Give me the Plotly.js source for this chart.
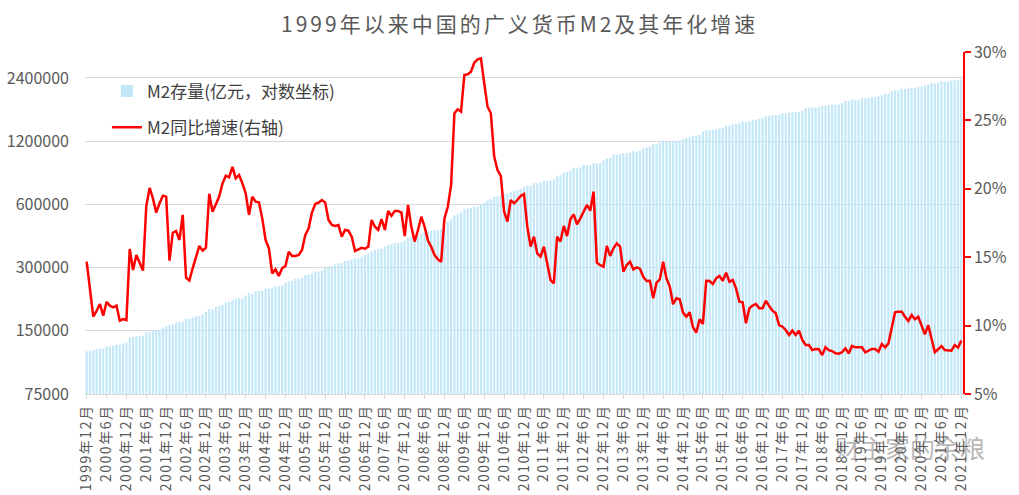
<!DOCTYPE html>
<html>
<head>
<meta charset="utf-8">
<script src="https://cdn.plot.ly/plotly-3.0.1.min.js"></script>
<style>
  html, body { margin: 0; padding: 0; background: #fff; }
  #chart { width: 1019px; height: 495px; }
  #chart .gtitle { letter-spacing: 3px; }
  #chart .xtick text { letter-spacing: 1.5px; }
</style>
</head>
<body>
<div id="chart"></div>
<script>
// first month of the series, 1999-12, one point per month up to 2021-12
const startYear = 1999;
const startMonth = 12;

// M2 stock, 100 million yuan (left axis, log)
const m2Stock = [
    119900,
    // 2000
    121000, 121700, 122600, 123400, 123700, 126600, 126400, 127800, 128700, 128700, 130500, 132400,
    // 2001
    139000, 140000, 141700, 141800, 142300, 147800, 147300, 150100, 151000, 150800, 155000, 158300,
    // 2002
    159600, 160900, 164100, 164600, 166100, 170900, 171000, 173600, 176000, 176400, 179700, 185000,
    // 2003
    190500, 190100, 194500, 196100, 199500, 204900, 206200, 209900, 213600, 213600, 214500, 221200,
    // 2004
    227100, 225400, 231700, 232800, 233100, 238400, 237700, 240000, 243800, 243700, 247100, 253200,
    // 2005
    257700, 259400, 264600, 266100, 268300, 275800, 276700, 281300, 287400, 286900, 291100, 298800,
    // 2006
    303600, 304500, 310500, 313700, 316700, 322800, 324000, 327900, 331900, 332700, 337500, 345600,
    // 2007
    351500, 358700, 364100, 367300, 369700, 377800, 383900, 387200, 393100, 394200, 396600, 403400,
    // 2008
    417800, 421000, 423100, 429300, 436200, 443100, 446400, 449000, 453100, 453100, 458600, 475200,
    // 2009
    496100, 506700, 530600, 540500, 548300, 568900, 573100, 576700, 585400, 586600, 594600, 610200,
    // 2010
    625600, 636100, 649900, 656600, 663400, 673900, 674100, 687500, 696500, 699800, 710300, 725900,
    // 2011
    733900, 736100, 758100, 757400, 763400, 780800, 772900, 780900, 787400, 816800, 825500, 851600,
    // 2012
    855900, 867200, 895600, 889600, 900000, 924900, 918000, 924500, 943700, 936400, 943500, 974200,
    // 2013
    992100, 998600, 1035900, 1032600, 1042200, 1054400, 1052200, 1061300, 1077400, 1070200, 1079300, 1106500,
    // 2014
    1123500, 1131700, 1160700, 1160300, 1182100, 1209600, 1194800, 1197400, 1202100, 1199500, 1207100, 1228400,
    // 2015
    1242700, 1252500, 1275300, 1276000, 1285600, 1333400, 1350300, 1357000, 1359800, 1363000, 1379500, 1392300,
    // 2016
    1416300, 1424300, 1446200, 1446000, 1461100, 1490500, 1475800, 1497300, 1516400, 1519600, 1530400, 1550100,
    // 2017
    1575900, 1582900, 1599600, 1596300, 1601400, 1631300, 1627400, 1640000, 1655700, 1653400, 1653600, 1676800,
    // 2018
    1724900, 1729100, 1739300, 1737700, 1743100, 1770200, 1772600, 1782900, 1801700, 1791600, 1792800, 1826700,
    // 2019
    1865900, 1867400, 1889000, 1884700, 1891500, 1921400, 1916000, 1934600, 1952500, 1945600, 1961900, 1986500,
    // 2020
    2023100, 2030400, 2080900, 2093500, 2100200, 2134900, 2125500, 2136000, 2164100, 2149700, 2172100, 2186800,
    // 2021
    2213000, 2236000, 2276200, 2262100, 2275400, 2317800, 2302500, 2312300, 2342800, 2336200, 2354800, 2382900
];

// M2 year-on-year growth, % (right axis)
const m2Growth = [
    14.67,
    // 2000
    12.68, 10.65, 11.07, 11.58, 10.73, 11.73, 11.46, 11.34, 11.46, 10.36, 10.48, 10.41,
    // 2001
    15.60, 14.06, 15.16, 14.55, 14.02, 18.74, 20.06, 19.30, 18.26, 18.94, 19.50, 19.43,
    // 2002
    14.75, 16.79, 16.92, 16.26, 18.09, 13.50, 13.29, 14.19, 14.97, 15.82, 15.48, 15.70,
    // 2003
    19.64, 18.33, 18.87, 19.43, 20.40, 20.96, 20.84, 21.61, 20.77, 21.01, 20.40, 19.67,
    // 2004
    18.09, 19.43, 19.06, 19.01, 17.84, 16.26, 15.65, 13.82, 14.11, 13.63, 14.19, 14.36,
    // 2005
    15.40, 15.09, 15.09, 15.16, 15.53, 16.62, 17.11, 18.26, 18.89, 18.99, 19.18, 18.99,
    // 2006
    17.72, 17.35, 17.28, 17.35, 16.50, 16.99, 16.94, 16.50, 15.45, 15.60, 15.69, 15.62,
    // 2007
    15.77, 17.72, 17.23, 16.99, 17.79, 16.99, 18.38, 18.03, 18.38, 18.38, 18.26, 16.55,
    // 2008
    18.82, 17.23, 16.14, 16.99, 17.96, 17.23, 16.21, 15.77, 15.16, 14.85, 14.67, 17.84,
    // 2009
    18.69, 20.28, 25.52, 25.81, 25.64, 28.32, 28.37, 28.56, 29.22, 29.46, 29.54, 27.71,
    // 2010
    26.00, 25.52, 22.35, 21.37, 20.94, 18.33, 17.60, 19.18, 18.94, 19.18, 19.47, 19.62,
    // 2011
    17.23, 15.77, 16.50, 15.28, 15.04, 15.77, 14.55, 13.33, 13.09, 16.50, 16.14, 17.28,
    // 2012
    16.55, 17.77, 18.13, 17.40, 17.84, 18.38, 18.82, 18.40, 19.79, 14.60, 14.41, 14.31,
    // 2013
    15.82, 15.09, 15.65, 16.01, 15.77, 13.94, 14.43, 14.67, 14.11, 14.26, 14.16, 13.57,
    // 2014
    13.26, 13.28, 12.00, 13.14, 13.38, 14.67, 13.46, 12.85, 11.56, 12.00, 11.92, 10.95,
    // 2015
    10.65, 10.97, 9.88, 9.48, 10.46, 10.12, 13.28, 13.26, 13.04, 13.46, 13.63, 13.28,
    // 2016
    13.87, 13.21, 13.33, 12.72, 11.75, 11.70, 10.17, 11.26, 11.46, 11.58, 11.26, 11.26,
    // 2017
    11.82, 11.43, 11.09, 10.90, 10.04, 9.92, 9.68, 9.31, 9.63, 9.31, 9.63, 8.95,
    // 2018
    8.58, 8.58, 8.22, 8.29, 8.27, 7.85, 8.41, 8.20, 8.14, 7.97, 7.95, 8.05,
    // 2019
    8.34, 7.97, 8.51, 8.41, 8.41, 8.41, 8.05, 8.17, 8.29, 8.29, 8.09, 8.66,
    // 2020
    8.41, 8.70, 9.80, 10.97, 11.02, 11.02, 10.65, 10.34, 10.77, 10.46, 10.65, 10.04,
    // 2021
    9.36, 10.04, 9.07, 8.05, 8.27, 8.51, 8.22, 8.17, 8.17, 8.58, 8.39, 8.90
];

const leftTicks = [75000, 150000, 300000, 600000, 1200000, 2400000];
const rightTicks = [5, 10, 15, 20, 25, 30];

// month labels like 2000年6月
const months = [];
for (let i = 0; i < m2Stock.length; i++) {
    const n = startMonth - 1 + i;
    months.push((startYear + Math.floor(n / 12)) + '年' + (n % 12 + 1) + '月');
}
const xTicks = months.filter((m, i) => i % 6 === 0);

const grey = '#595959';
const font = 'Noto Sans CJK SC, Noto Sans, sans-serif';

const traces = [
    {
        x: months,
        y: m2Stock,
        type: 'bar',
        name: 'M2存量(亿元，对数坐标)',
        legendgroup: 'stock',
        marker: { color: '#c2e7f8', line: { width: 0 } },
        hoverinfo: 'x+y'
    },
    {
        x: months,
        y: m2Growth,
        type: 'scatter',
        mode: 'lines',
        name: 'M2同比增速(右轴)',
        legendgroup: 'growth',
        yaxis: 'y2',
        line: { color: '#ff0000', width: 2.5 }
    }
];

const layout = {
    width: 1019,
    height: 495,
    margin: { l: 85, r: 56, t: 52, b: 101 },
    paper_bgcolor: '#ffffff',
    plot_bgcolor: '#ffffff',
    font: { family: font, color: grey, size: 14 },
    bargap: 0.35,
    title: {
        text: '1999年以来中国的广义货币M2及其年化增速',
        xref: 'container', x: 0.51, xanchor: 'center',
        yref: 'container', y: 0.95, yanchor: 'middle',
        font: { family: font, size: 21, color: grey }
    },
    xaxis: {
        type: 'category',
        range: [-0.5, months.length - 0.5],
        tickmode: 'array',
        tickvals: xTicks,
        ticktext: xTicks,
        tickangle: -90,
        tickfont: { size: 14, color: grey },
        ticks: 'outside',
        ticklen: 4,
        tickcolor: '#d9d9d9',
        showline: true,
        linecolor: '#d9d9d9',
        linewidth: 1,
        showgrid: false,
        zeroline: false
    },
    yaxis: {
        type: 'log',
        range: [Math.log10(75000), 6.504],
        tickmode: 'array',
        tickvals: leftTicks,
        ticktext: leftTicks.map(String),
        tickfont: { size: 16, color: grey },
        ticklabelstandoff: 15,
        showgrid: true,
        gridcolor: '#d9d9d9',
        gridwidth: 1,
        showline: false,
        ticks: '',
        zeroline: false
    },
    yaxis2: {
        overlaying: 'y',
        side: 'right',
        range: [5, 30],
        tickmode: 'array',
        tickvals: rightTicks,
        ticktext: rightTicks.map(v => v + '%'),
        tickfont: { size: 16, color: grey },
        showgrid: false,
        zeroline: false,
        showline: true,
        linecolor: '#ff0000',
        linewidth: 1.5,
        ticks: 'outside',
        ticklen: 6,
        tickcolor: '#ff0000',
        tickwidth: 1.5
    },
    showlegend: true,
    legend: {
        x: 0.025, xanchor: 'left',
        y: 0.937, yanchor: 'top',
        bgcolor: 'rgba(0,0,0,0)',
        font: { size: 17, color: '#404040', family: font },
        traceorder: 'grouped',
        itemwidth: 30,
        tracegroupgap: 11
    },
    annotations: [
        {
            text: '财主家的余粮',
            xref: 'paper', yref: 'paper',
            x: 1.027, xanchor: 'right',
            y: -0.155, yanchor: 'middle',
            showarrow: false,
            font: { family: font, size: 25, color: 'rgba(110,110,110,0.5)' }
        }
    ]
};

Plotly.newPlot('chart', traces, layout, { displayModeBar: false, responsive: false });
</script>
</body>
</html>
